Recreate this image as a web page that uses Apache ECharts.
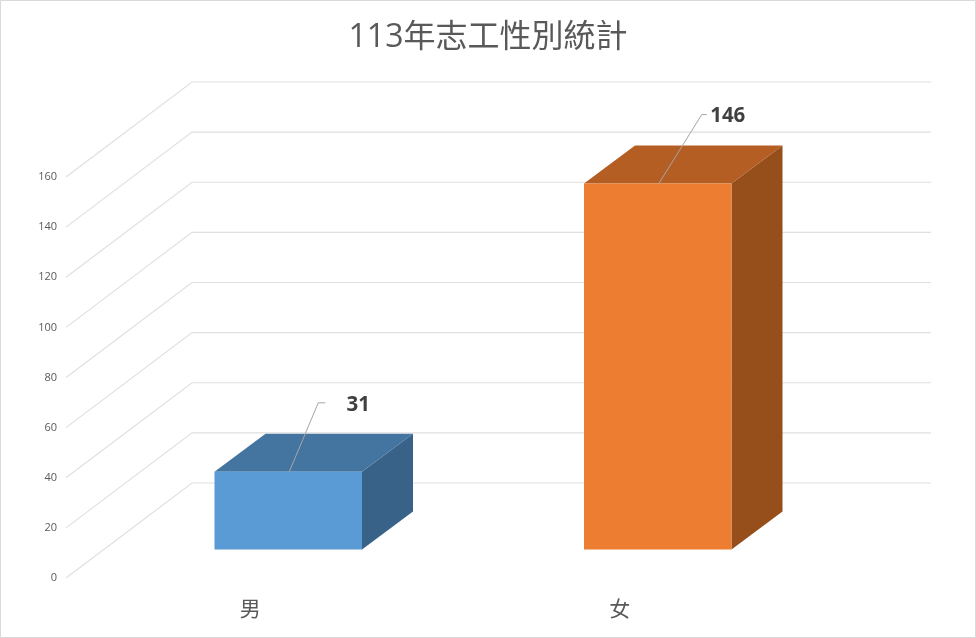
<!DOCTYPE html>
<html><head><meta charset="utf-8">
<style>html,body{margin:0;padding:0;background:#fff}#c{width:976px;height:638px}</style>
<script src="https://cdn.jsdelivr.net/npm/echarts@6/dist/echarts.min.js"></script>
</head><body><div id="c"></div>
<script>
const titleText = '113年志工性別統計';
const categories = ['男', '女'];
const values = [31, 146];
const ticks = [0, 20, 40, 60, 80, 100, 120, 140, 160];
const frontColors = ['#5b9bd5', '#ed7d31'];
const topColors = ['#4475a1', '#b45e24'];
const sideColors = ['#386288', '#964e1a'];

const FONT = '"Open Sans","Noto Sans CJK TC",sans-serif';
const WALL_DX = 126, WALL_DY = -95, WALL_RIGHT = 931;
const BAR_W = 147.5, BAR_DX = 51, BAR_DY = -38, FLOOR_DY = -28.5;
const labelPos = [
  {dx: 30, dy: -69, tail: 7, tx: 70, ty: -67},
  {dx: 44, dy: -69, tail: 5, tx: 70, ty: -67}
];

const chart = echarts.init(document.getElementById('c'), null, {renderer: 'canvas'});

function renderWall(params, api) {
  const v = api.value(0);
  const rect = params.coordSys;
  const p = api.coord([categories[0], v]);
  const x0 = rect.x - 38;
  return {
    type: 'polyline',
    shape: {points: [[x0, p[1]], [x0 + WALL_DX, p[1] + WALL_DY], [WALL_RIGHT, p[1] + WALL_DY]]},
    style: {stroke: '#e0e0e0', lineWidth: 1.2, fill: null},
    silent: true
  };
}

function renderBar(params, api) {
  const i = api.value(0);
  const v = api.value(1);
  const top = api.coord([i, v]);
  const base = api.coord([i, 0]);
  const xl = top[0] - BAR_W / 2 - 0.5, xr = xl + BAR_W;
  const yt = top[1] + FLOOR_DY, yb = base[1] + FLOOR_DY;
  const mid = (xl + xr) / 2;
  const lp = labelPos[i];
  return {
    type: 'group',
    children: [
      {type: 'polygon', shape: {points: [[xr, yt], [xr + BAR_DX, yt + BAR_DY], [xr + BAR_DX, yb + BAR_DY], [xr, yb]]},
        style: {fill: sideColors[i]}},
      {type: 'polygon', shape: {points: [[xl, yt], [xl + BAR_DX, yt + BAR_DY], [xr + BAR_DX, yt + BAR_DY], [xr, yt]]},
        style: {fill: topColors[i]}},
      {type: 'rect', shape: {x: xl, y: yt, width: BAR_W, height: yb - yt}, style: {fill: frontColors[i]}},
      {type: 'polyline', shape: {points: [[mid + 1, yt], [mid + lp.dx, yt + lp.dy], [mid + lp.dx + lp.tail, yt + lp.dy]]},
        style: {stroke: '#a6a6a6', lineWidth: 1, fill: null}},
      {type: 'text', style: {x: mid + lp.tx, y: yt + lp.ty, text: String(v), align: 'center', verticalAlign: 'middle',
        font: 'bold 20.5px ' + FONT, fill: '#404040'}}
    ]
  };
}

chart.setOption({
  animation: false,
  backgroundColor: '#fff',
  title: {text: titleText, left: 'center', top: 17,
    textStyle: {fontFamily: FONT, fontSize: 32, fontWeight: 'normal', color: '#595959'}},
  grid: {left: 104, width: 739, top: 177, height: 401},
  xAxis: {type: 'category', data: categories,
    axisLine: {show: false}, axisTick: {show: false},
    axisLabel: {margin: 22, padding: [0, 77, 0, 0], fontFamily: FONT, fontSize: 21, color: '#595959'}},
  yAxis: {type: 'value', min: 0, max: 160, interval: 20, splitLine: {show: false},
    axisLine: {show: false}, axisTick: {show: false},
    axisLabel: {margin: 47, padding: [3, 0, 0, 0], fontFamily: FONT, fontSize: 11, color: '#595959'}},
  graphic: [{type: 'rect', silent: true, z: -1,
    shape: {x: 0.5, y: 0.5, width: 975, height: 637},
    style: {fill: null, stroke: '#d9d9d9', lineWidth: 1}}],
  series: [
    {type: 'custom', coordinateSystem: 'cartesian2d', renderItem: renderWall, data: ticks.map(t => [t]),
      encode: {y: 0}, z: 1, silent: true, clip: false},
    {type: 'custom', coordinateSystem: 'cartesian2d', renderItem: renderBar,
      data: values.map((v, i) => [i, v]), encode: {x: 0, y: 1}, z: 2, silent: true, clip: false}
  ]
});
</script></body></html>
